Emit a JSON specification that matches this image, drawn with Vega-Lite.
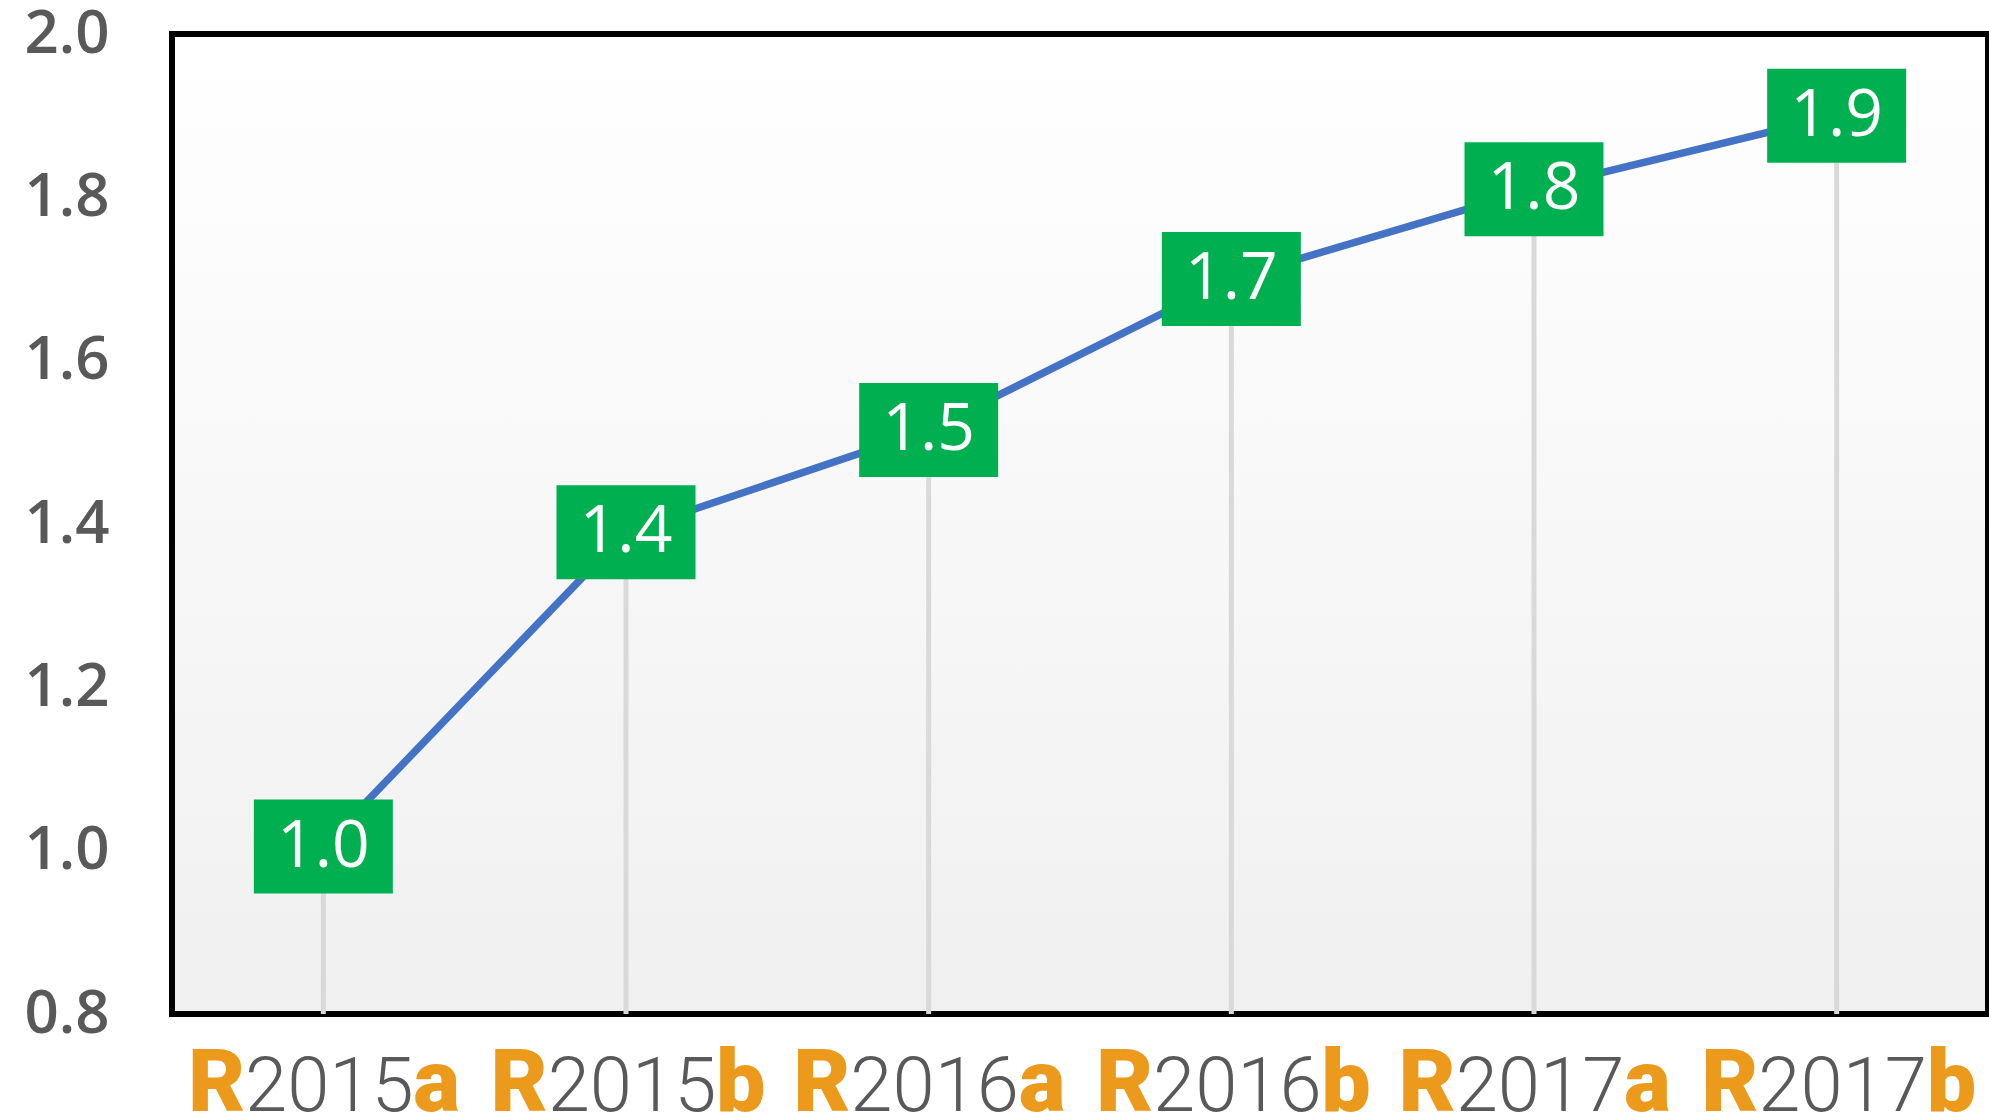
{
  "$schema": "https://vega.github.io/schema/vega-lite/v6.json",
  "autosize": {"type": "none"},
  "width": 1816,
  "height": 980,
  "padding": {"left": 172, "top": 34, "right": 1, "bottom": 103},
  "background": "white",
  "config": {"view": {"stroke": null}},
  "data": {"values": [
    {"cat": "R2015a", "r": "R", "num": "2015", "suf": "a", "v": 1.005},
    {"cat": "R2015b", "r": "R", "num": "2015", "suf": "b", "v": 1.39},
    {"cat": "R2016a", "r": "R", "num": "2016", "suf": "a", "v": 1.515},
    {"cat": "R2016b", "r": "R", "num": "2016", "suf": "b", "v": 1.70},
    {"cat": "R2017a", "r": "R", "num": "2017", "suf": "a", "v": 1.81},
    {"cat": "R2017b", "r": "R", "num": "2017", "suf": "b", "v": 1.90}
  ]},
  "layer": [
    {
      "data": {"values": [{"lo": 0.8, "hi": 2.0}]},
      "mark": {"type": "rect", "stroke": "black", "strokeWidth": 6,
        "fill": {"gradient": "linear", "x1": 0, "y1": 0, "x2": 0, "y2": 1,
          "stops": [{"offset": 0, "color": "#ffffff"}, {"offset": 1, "color": "#f0f0f0"}]}},
      "encoding": {
        "x": {"value": 0},
        "x2": {"value": "width"},
        "y": {"field": "lo", "type": "quantitative", "scale": {"domain": [0.8, 2.0], "nice": false, "zero": false},
          "axis": {"values": [0.8, 1.0, 1.2, 1.4, 1.6, 1.8, 2.0], "format": ".1f", "domain": false, "ticks": false, "grid": false,
            "labelFont": "Open Sans", "labelFontWeight": 600, "labelFontSize": 60, "labelColor": "#595959",
            "labelPadding": 63, "title": null, "labelBaseline": "middle"}},
        "y2": {"field": "hi"}
      }
    },
    {
      "mark": {"type": "rule", "color": "#d9d9d9", "strokeWidth": 5},
      "encoding": {
        "x": {"field": "cat", "type": "nominal", "sort": null, "scale": {"type": "band", "paddingInner": 0, "paddingOuter": 0}, "axis": null},
        "y": {"field": "v", "type": "quantitative"},
        "y2": {"datum": 0.8}
      }
    },
    {
      "mark": {"type": "line", "color": "#4472c4", "strokeWidth": 7.5},
      "encoding": {
        "x": {"field": "cat", "type": "nominal", "sort": null},
        "y": {"field": "v", "type": "quantitative"}
      }
    },
    {
      "mark": {"type": "rect", "width": 139, "height": 94, "color": "#00b050"},
      "encoding": {
        "x": {"field": "cat", "type": "nominal", "sort": null},
        "y": {"field": "v", "type": "quantitative"}
      }
    },
    {
      "mark": {"type": "text", "color": "white", "font": "Open Sans", "fontSize": 66, "baseline": "middle", "align": "center"},
      "encoding": {
        "x": {"field": "cat", "type": "nominal", "sort": null},
        "y": {"field": "v", "type": "quantitative"},
        "text": {"field": "v", "type": "quantitative", "format": ".1f"}
      }
    },
    {
      "mark": {"type": "text", "color": "#595959", "font": "Roboto", "fontWeight": 300, "fontSize": 76, "baseline": "alphabetic", "align": "center", "dx": 6, "dy": 97},
      "encoding": {
        "x": {"field": "cat", "type": "nominal", "sort": null},
        "y": {"datum": 0.8},
        "text": {"field": "num"}
      }
    },
    {
      "mark": {"type": "text", "color": "#eb9a1c", "font": "Roboto", "fontWeight": 900, "fontSize": 88, "baseline": "alphabetic", "align": "right", "dx": -78, "dy": 97},
      "encoding": {
        "x": {"field": "cat", "type": "nominal", "sort": null},
        "y": {"datum": 0.8},
        "text": {"field": "r"}
      }
    },
    {
      "mark": {"type": "text", "color": "#eb9a1c", "font": "Roboto", "fontWeight": 900, "fontSize": 88, "baseline": "alphabetic", "align": "left", "dx": 90, "dy": 97},
      "encoding": {
        "x": {"field": "cat", "type": "nominal", "sort": null},
        "y": {"datum": 0.8},
        "text": {"field": "suf"}
      }
    }
  ]
}
